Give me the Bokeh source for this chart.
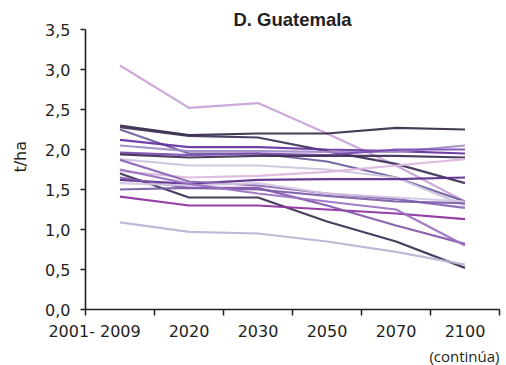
from bokeh.plotting import figure
from bokeh.models import Range1d, FixedTicker, Title
from bokeh.embed import file_html
from bokeh.resources import INLINE

# Rendimiento proyectado (t/ha), Guatemala, por escenario/cultivo
periods = ["2001- 2009", "2020", "2030", "2050", "2070", "2100"]

s01 = [3.05, 2.52, 2.58, 2.20, 1.80, 1.35]
s02 = [2.30, 2.18, 2.20, 2.20, 2.27, 2.25]
s03 = [2.28, 2.17, 2.15, 1.98, 1.82, 1.58]
s04 = [2.25, 1.95, 1.95, 1.85, 1.65, 1.35]
s05 = [2.12, 2.03, 2.03, 2.00, 1.98, 1.95]
s06 = [2.05, 1.98, 1.98, 1.97, 1.97, 2.05]
s07 = [1.96, 1.93, 1.95, 1.93, 2.00, 2.00]
s08 = [1.94, 1.90, 1.92, 1.92, 1.92, 1.90]
s09 = [1.88, 1.80, 1.80, 1.75, 1.65, 1.30]
s10 = [1.73, 1.65, 1.67, 1.72, 1.80, 1.88]
s11 = [1.62, 1.57, 1.62, 1.63, 1.63, 1.65]
s12 = [1.87, 1.60, 1.55, 1.45, 1.38, 1.27]
s13 = [1.70, 1.40, 1.40, 1.10, 0.85, 0.52]
s14 = [1.50, 1.52, 1.50, 1.42, 1.35, 1.33]
s15 = [1.41, 1.30, 1.30, 1.25, 1.20, 1.13]
s16 = [1.09, 0.97, 0.95, 0.85, 0.72, 0.56]
s17 = [1.65, 1.52, 1.52, 1.30, 1.05, 0.82]
s18 = [1.58, 1.55, 1.58, 1.45, 1.40, 1.35]
s19 = [1.75, 1.57, 1.45, 1.35, 1.25, 0.80]

series = [s01, s02, s03, s04, s05, s06, s07, s08, s09, s10,
          s11, s12, s13, s14, s15, s16, s17, s18, s19]
colors = ["#c7a2d8", "#372a48", "#3f3157", "#6c5c9c", "#6430a0",
          "#9d8cc6", "#7c4cb2", "#3d2e54", "#cbc3de", "#dbb7de",
          "#5a2a8c", "#8a64b4", "#3b2c52", "#7a5ca8", "#8c2f9e",
          "#bab2d2", "#8258aa", "#d2c6e2", "#9a70c2"]

y_ticks = [0.0, 0.5, 1.0, 1.5, 2.0, 2.5, 3.0, 3.5]
y_labels = ["0,0", "0,5", "1,0", "1,5", "2,0", "2,5", "3,0", "3,5"]

NBSP = "\u00a0"

p = figure(width=506, height=365, output_backend="svg", toolbar_location=None,
           x_range=Range1d(0, 6), y_range=Range1d(0, 3.5),
           min_border_left=85, min_border_right=7, min_border_top=29,
           min_border_bottom=10)

p.title.text = "D. Guatemala"
p.title.align = "center"
p.title.text_font = "Liberation Sans"
p.title.text_font_style = "bold"
p.title.text_font_size = "18.5px"
p.title.text_color = "#231f20"
p.title.standoff = 0
p.title.offset = 0

xs = [i + 0.5 for i in range(len(periods))]
for ys, c in zip(series, colors):
    p.line(xs, ys, line_color=c, line_width=2.2, line_alpha=0.92)

p.xgrid.visible = False
p.ygrid.visible = False
p.outline_line_color = None
p.background_fill_color = "white"
p.border_fill_color = "white"

# the first period label hangs to the left: its end year sits under the
# period centre, so pad the right side with non-breaking spaces
first_start, first_end = periods[0].split(" ")
tick_labels = [first_start + NBSP + first_end + NBSP * 10] + periods[1:]

xa = p.xaxis[0]
xa.ticker = FixedTicker(ticks=xs, minor_ticks=list(range(len(periods) + 1)))
xa.major_label_overrides = {x: lab for x, lab in zip(xs, tick_labels)}
xa.major_tick_out = 0
xa.major_tick_in = 0
xa.minor_tick_out = 6
xa.minor_tick_in = 0
xa.minor_tick_line_color = "#231f20"
xa.minor_tick_line_width = 1.5
xa.axis_line_color = "#231f20"
xa.axis_line_width = 1.6
xa.major_label_text_font = "DejaVu Sans"
xa.major_label_text_font_size = "16px"
xa.major_label_text_color = "#231f20"
xa.major_label_standoff = 6

ya = p.yaxis[0]
ya.ticker = FixedTicker(ticks=y_ticks, minor_ticks=[])
ya.major_label_overrides = {t: lab for t, lab in zip(y_ticks, y_labels)}
ya.major_tick_out = 5
ya.major_tick_in = 0
ya.major_tick_line_color = "#231f20"
ya.major_tick_line_width = 1.5
ya.axis_line_color = "#231f20"
ya.axis_line_width = 1.6
ya.major_label_text_font = "DejaVu Sans"
ya.major_label_text_font_size = "16px"
ya.major_label_text_color = "#231f20"
ya.major_label_standoff = 10
ya.axis_label = NBSP * 5 + "t/ha"
ya.axis_label_text_font = "DejaVu Sans"
ya.axis_label_text_font_style = "normal"
ya.axis_label_text_font_size = "16px"
ya.axis_label_text_color = "#231f20"
ya.axis_label_standoff = 12

p.add_layout(Title(text="(continúa)", align="right", text_font="Open Sans",
                   text_font_size="15px", text_font_style="normal",
                   text_color="#231f20", standoff=0, offset=0), "below")

open("out.html", "w").write(file_html(p, INLINE))
